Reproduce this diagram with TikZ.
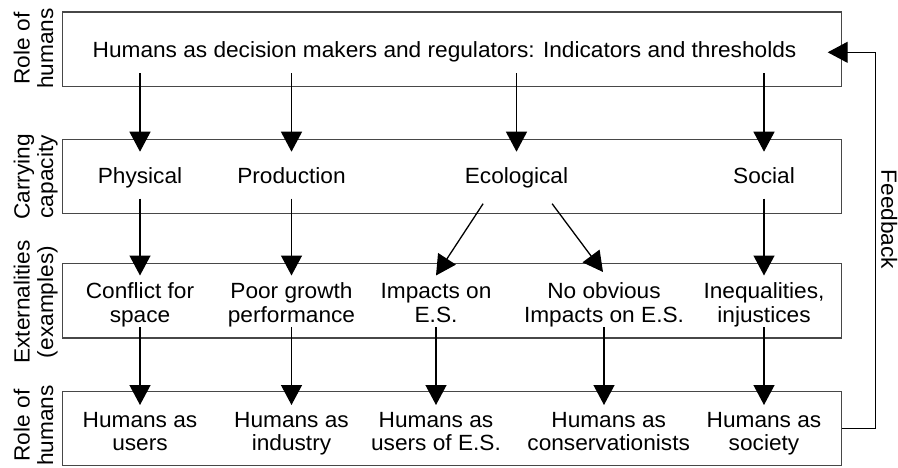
\documentclass[tikz,border=0pt]{standalone}
\usepackage{fontspec}
\setmainfont{Liberation Sans}[FakeStretch=1.03]
\usetikzlibrary{arrows.meta}
\newcommand{\mytop}[1]{\rule{0pt}{#1}}
\newcommand{\mybot}[1]{\rule[-#1]{0pt}{#1}}
\begin{document}
\begin{tikzpicture}[x=1pt,y=-1pt,
  box/.style={draw=black!72, line width=1.3pt, inner sep=0pt, minimum width=779pt},
  txt/.style={inner sep=0pt, font=\fontsize{22pt}{23.5pt}\selectfont, align=center},
  row2/.style={txt, anchor=north},
  arr/.style={draw=black, line width=1.3pt, -{Triangle[length=20pt,width=21pt]}},
  side/.style={txt, rotate=90, anchor=center}]
\useasboundingbox (0,0) rectangle (898,467);

% boxes
\node[box, minimum height=74.7pt] (b1) at (452.2,49.35) {};
\node[box, minimum height=74pt]   (b2) at (452.2,176.3) {};
\node[box, minimum height=74.5pt] (b3) at (452.2,300.75) {};
\node[box, minimum height=74pt]   (b4) at (452.2,428.7) {};

% side labels
\node[side] (s1) at (35.5,48.5)  {\mytop{16.5pt}Role of\\humans\mybot{5pt}};
\node[side] (s2) at (35.5,176.8) {\mytop{16.5pt}Carrying\\capacity\mybot{5pt}};
\node[side] (s3) at (35.5,302)   {\mytop{16.5pt}Externalities\\(examples)\mybot{5pt}};
\node[side] (s4) at (35.5,425.5) {\mytop{16.5pt}Role of\\humans\mybot{5pt}};

% row 1
\node[row2] (top) at (444.5,40.5) {\mytop{16.5pt}Humans as decision makers and regulators: Indicators and thresholds\mybot{16pt}};

% row 2
\node[row2] (phys) at (140,151.7)   {\mytop{31.3pt}Physical\mybot{15.3pt}};
\node[row2] (prod) at (291.5,151.7) {\mytop{31.3pt}Production\mybot{15.3pt}};
\node[row2] (eco)  at (516.5,151.7) {\mytop{31.3pt}Ecological\mybot{15.3pt}};
\node[row2] (soc)  at (764,151.7)   {\mytop{31.3pt}Social\mybot{15.3pt}};

% row 3
\node[row2] (conf)  at (140,275.5)   {\mytop{23pt}Conflict for\\space\mybot{4.9pt}};
\node[row2] (poor)  at (291.5,275.5) {\mytop{23pt}Poor growth\\performance\mybot{4.9pt}};
\node[row2] (imp)   at (436,275.5)   {\mytop{23pt}Impacts on\\E.S.\mybot{4.9pt}};
\node[row2] (noobv) at (604,275.5)   {\mytop{23pt}No obvious\\Impacts on E.S.\mybot{4.9pt}};
\node[row2] (ineq)  at (764,275.5)   {\mytop{23pt}Inequalities,\\injustices\mybot{4.9pt}};

% row 4
\node[row2] (husers) at (140,405)   {\mytop{22pt}Humans as\\users\mybot{5pt}};
\node[row2] (hind)   at (291.5,405) {\mytop{22pt}Humans as\\industry\mybot{5pt}};
\node[row2] (hues)   at (436,405)   {\mytop{22pt}Humans as\\users of E.S.\mybot{5pt}};
\node[row2] (hcons)  at (608.7,405) {\mytop{22pt}Humans as\\conservationists\mybot{5pt}};
\node[row2] (hsoc)   at (764,405)   {\mytop{22pt}Humans as\\society\mybot{5pt}};

% feedback label
\node[inner sep=0pt, font=\fontsize{22pt}{23.5pt}\selectfont, rotate=-90, anchor=base] (fb) at (881.3,219.5) {Feedback};

% arrows row 1 -> row 2
\draw[arr] (top.south -| phys.north) -- (phys.north);
\draw[arr] (top.south -| prod.north) -- (prod.north);
\draw[arr] (top.south -| eco.north) -- (eco.north);
\draw[arr] (top.south -| soc.north) -- (soc.north);

% arrows row 2 -> row 3
\draw[arr] (phys.south) -- (conf.north);
\draw[arr] (prod.south) -- (poor.north);
\draw[arr] ([xshift=-33.4pt,yshift=-5pt]eco.south) -- (imp.north);
\draw[arr] ([xshift=35.6pt,yshift=-5pt]eco.south) -- ([xshift=-1pt,yshift=3.5pt]noobv.north);
\draw[arr] (soc.south) -- (ineq.north);

% arrows row 3 -> row 4
\draw[arr] (conf.south) -- (husers.north);
\draw[arr] (poor.south) -- (hind.north);
\draw[arr] (imp.south) -- (hues.north);
\draw[arr] (noobv.south) -- (noobv.south |- hcons.north);
\draw[arr] (ineq.south) -- (hsoc.north);

% feedback loop
\coordinate (fbcorner) at (875.5,52.3);
\coordinate (fbtip) at (827.7,52.3);
\draw[arr] (b4.east) -| (fbcorner) -- (fbtip);
\end{tikzpicture}
\end{document}
